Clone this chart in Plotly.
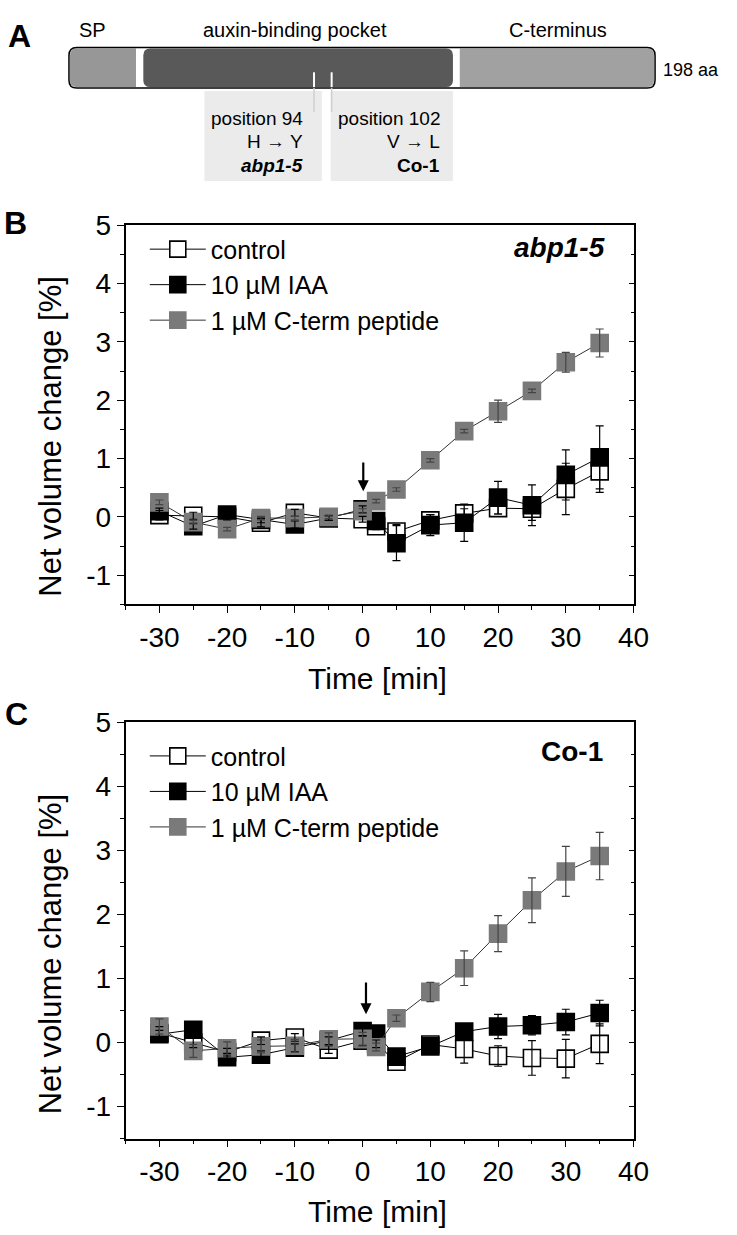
import plotly.graph_objects as go

W, H = 737, 1235


def px(x):
    return x / W


def py(y):
    return 1 - y / H


FONT = "Liberation Sans, Arial, sans-serif"

# ---------------- data ----------------
time_min = [-30, -25, -20, -15, -10, -5, 0, 2, 5, 10, 15, 20, 25, 30, 35]
series_names = ["control", "10 µM IAA", "1 µM C-term peptide"]

# panel B (abp1-5)
b_control = [0.03, 0.02, 0.00, -0.10, 0.07, -0.02, -0.04, -0.16, -0.25, -0.06, 0.06, 0.15, 0.14, 0.48, 0.78]
b_control_err = [0.08, 0.06, 0.05, 0.07, 0.06, 0.04, 0.05, 0.06, 0.12, 0.10, 0.08, 0.10, 0.20, 0.44, 0.36]
b_iaa = [0.10, -0.16, 0.04, -0.05, -0.13, -0.02, 0.13, -0.07, -0.45, -0.14, -0.10, 0.33, 0.20, 0.72, 1.02]
b_iaa_err = [0.05, 0.05, 0.06, 0.05, 0.06, 0.04, 0.06, 0.06, 0.30, 0.18, 0.32, 0.28, 0.35, 0.43, 0.54]
b_pep = [0.25, -0.09, -0.21, -0.02, -0.02, 0.00, 0.10, 0.27, 0.47, 0.97, 1.47, 1.81, 2.16, 2.65, 2.98]
b_pep_err = [0.04, 0.03, 0.03, 0.03, 0.03, 0.03, 0.04, 0.03, 0.03, 0.03, 0.03, 0.19, 0.03, 0.17, 0.24]

# panel C (Co-1)
c_control = [0.15, 0.00, -0.15, 0.03, 0.08, -0.11, 0.03, -0.02, -0.30, -0.03, -0.10, -0.21, -0.24, -0.25, -0.02]
c_control_err = [0.10, 0.08, 0.06, 0.06, 0.06, 0.06, 0.08, 0.06, 0.05, 0.06, 0.22, 0.16, 0.27, 0.30, 0.31]
c_iaa = [0.13, 0.20, -0.23, -0.19, -0.08, 0.03, 0.18, 0.14, -0.22, -0.06, 0.17, 0.25, 0.27, 0.32, 0.46]
c_iaa_err = [0.06, 0.08, 0.06, 0.06, 0.06, 0.06, 0.08, 0.06, 0.10, 0.06, 0.10, 0.19, 0.15, 0.20, 0.20]
c_pep = [0.25, -0.13, -0.09, -0.06, -0.05, 0.05, 0.06, -0.07, 0.38, 0.79, 1.16, 1.70, 2.22, 2.67, 2.91]
c_pep_err = [0.12, 0.10, 0.10, 0.10, 0.10, 0.10, 0.10, 0.06, 0.05, 0.15, 0.27, 0.28, 0.35, 0.39, 0.37]

x_ticks = [-30, -20, -10, 0, 10, 20, 30, 40]
x_ticktext = ["-30", "-20", "-10", "0", "10", "20", "30", "40"]
y_ticks = [-1, 0, 1, 2, 3, 4, 5]
y_ticktext = ["-1", "0", "1", "2", "3", "4", "5"]

# ---------------- styles ----------------
GRAY = "#7a7a7a"
styles = [
    dict(fill="white", edge="black", line="black", err="black"),
    dict(fill="black", edge="black", line="black", err="black"),
    dict(fill=GRAY, edge=GRAY, line="#333333", err="#444444"),
]

fig = go.Figure()

panels = [
    dict(xa="x", ya="y", legend="legend",
         vals=[b_control, b_iaa, b_pep], errs=[b_control_err, b_iaa_err, b_pep_err]),
    dict(xa="x2", ya="y2", legend="legend2",
         vals=[c_control, c_iaa, c_pep], errs=[c_control_err, c_iaa_err, c_pep_err]),
]

for p in panels:
    for name, vals, st in zip(series_names, p["vals"], styles):
        fig.add_trace(go.Scatter(
            x=time_min, y=vals, name=name, mode="lines+markers",
            xaxis=p["xa"], yaxis=p["ya"], legend=p["legend"],
            line=dict(color=st["line"], width=1),
            marker=dict(symbol="square", size=17, color=st["fill"],
                        line=dict(color=st["edge"], width=1.6)),
        ))
    for vals, errs, st in zip(p["vals"], p["errs"], styles):
        fig.add_trace(go.Scatter(
            x=time_min, y=vals, mode="markers", showlegend=False,
            xaxis=p["xa"], yaxis=p["ya"],
            marker=dict(size=2, opacity=0),
            error_y=dict(type="data", array=errs, visible=True,
                         color=st["err"], thickness=1.2, width=4),
            hoverinfo="skip",
        ))

# ---------------- axes ----------------
x_dom = [px(128.3), px(647.6)]
yB_dom = [py(596.7), py(212.7)]
yC_dom = [py(1137.5), py(715.8)]

tickfont = dict(family=FONT, size=28, color="black")

xcommon = dict(range=[-35, 40], tickvals=x_ticks, ticktext=x_ticktext,
               ticks="outside", ticklen=7,
               tickwidth=1.3, tickcolor="black", showline=True, linecolor="black",
               linewidth=1.5, mirror=True, showgrid=False, zeroline=False,
               tickfont=tickfont, domain=x_dom,
               minor=dict(dtick=5, tick0=0, ticks="outside", ticklen=4,
                          tickcolor="black", tickwidth=1))
ycommon = dict(range=[-1.5, 5], tickvals=y_ticks, ticktext=y_ticktext,
               ticks="outside", ticklen=7,
               tickwidth=1.3, tickcolor="black", showline=True, linecolor="black",
               linewidth=1.5, mirror=True, showgrid=False, zeroline=False,
               tickfont=tickfont,
               minor=dict(dtick=0.5, tick0=0, ticks="outside", ticklen=4,
                          tickcolor="black", tickwidth=1))
yright = dict(range=[-1.5, 5], tickvals=y_ticks, ticks="inside", ticklen=5,
              tickcolor="black", tickwidth=1, showticklabels=False, showline=False,
              showgrid=False, zeroline=False, side="right",
              minor=dict(dtick=0.5, tick0=0, ticks="inside", ticklen=3,
                         tickcolor="black", tickwidth=1))

fig.update_layout(
    xaxis=dict(xcommon, anchor="y"),
    yaxis=dict(ycommon, anchor="x", domain=yB_dom),
    xaxis2=dict(xcommon, anchor="y2"),
    yaxis2=dict(ycommon, anchor="x2", domain=yC_dom),
    yaxis3=dict(yright, overlaying="y", anchor="x"),
    yaxis4=dict(yright, overlaying="y2", anchor="x2"),
)
# empty traces so the right-hand tick axes are rendered
fig.add_trace(go.Scatter(x=[], y=[], xaxis="x", yaxis="y3", showlegend=False))
fig.add_trace(go.Scatter(x=[], y=[], xaxis="x2", yaxis="y4", showlegend=False))

legfont = dict(family=FONT, size=25, color="black")
fig.update_layout(
    legend=dict(x=px(148), y=py(214), xanchor="left", yanchor="top",
                font=legfont, bgcolor="rgba(0,0,0,0)", tracegroupgap=0,
                itemwidth=56),
    legend2=dict(x=px(148), y=py(727), xanchor="left", yanchor="top",
                 font=legfont, bgcolor="rgba(0,0,0,0)", tracegroupgap=0,
                 itemwidth=56),
)

annotations = []
# axis titles
for yc in [426, 950]:
    annotations.append(dict(text="Net volume change [%]", x=px(52), y=py(yc),
                            xref="paper", yref="paper", showarrow=False,
                            textangle=-90, font=dict(family=FONT, size=31, color="black"),
                            xanchor="center", yanchor="middle"))
for yc in [672, 1211]:
    annotations.append(dict(text="Time [min]", x=px(386), y=py(yc),
                            xref="paper", yref="paper", showarrow=False,
                            font=dict(family=FONT, size=30, color="black"),
                            xanchor="center", yanchor="middle"))
# panel letters
for letter, (lx, ly) in zip("ABC", [(20, 21), (16, 211), (17, 708)]):
    annotations.append(dict(text="<b>%s</b>" % letter, x=px(lx), y=py(ly),
                            xref="paper", yref="paper", showarrow=False,
                            font=dict(family=FONT, size=32, color="black"),
                            xanchor="center", yanchor="middle"))
# genotype labels
annotations.append(dict(text="<b><i>abp1-5</i></b>", x=px(620), y=py(235),
                        xref="paper", yref="paper", showarrow=False,
                        font=dict(family=FONT, size=28, color="black"),
                        xanchor="right", yanchor="middle"))
annotations.append(dict(text="<b>Co-1</b>", x=px(618), y=py(746),
                        xref="paper", yref="paper", showarrow=False,
                        font=dict(family=FONT, size=28, color="black"),
                        xanchor="right", yanchor="middle"))
# treatment arrows
for xr, yr, xa in [("x", "y", 0.1), ("x2", "y2", 0.5)]:
    annotations.append(dict(x=xa, y=0.44, ax=xa, ay=0.96, xref=xr, yref=yr,
                            axref=xr, ayref=yr, showarrow=True, text="",
                            arrowhead=2, arrowsize=1, arrowwidth=2.2,
                            arrowcolor="black"))

# ---------------- panel A diagram ----------------
shapes = []


def rrect(x0, y0, x1, y1, r, left=True, right=True):
    X0, X1 = px(x0), px(x1)
    Y0, Y1 = py(y0), py(y1)
    rx, ry = r / W, r / H
    d = ""
    if left:
        d += "M %f,%f " % (X0 + rx, Y0)
    else:
        d += "M %f,%f " % (X0, Y0)
    if right:
        d += "L %f,%f Q %f,%f %f,%f L %f,%f Q %f,%f %f,%f " % (
            X1 - rx, Y0, X1, Y0, X1, Y0 - ry, X1, Y1 + ry, X1, Y1, X1 - rx, Y1)
    else:
        d += "L %f,%f L %f,%f " % (X1, Y0, X1, Y1)
    if left:
        d += "L %f,%f Q %f,%f %f,%f L %f,%f Q %f,%f %f,%f Z" % (
            X0 + rx, Y1, X0, Y1, X0, Y1 + ry, X0, Y0 - ry, X0, Y0, X0 + rx, Y0)
    else:
        d += "L %f,%f Z" % (X0, Y1)
    return d


shapes.append(dict(type="path", xref="paper", yref="paper",
                   path=rrect(70.5, 33, 669.6, 74, 8), fillcolor="white",
                   line=dict(width=0)))
shapes.append(dict(type="path", xref="paper", yref="paper",
                   path=rrect(71.5, 34, 139, 73, 7, True, False), fillcolor="#979797",
                   line=dict(width=0)))
shapes.append(dict(type="path", xref="paper", yref="paper",
                   path=rrect(146.5, 34, 463, 73, 7), fillcolor="#595959",
                   line=dict(width=0)))
shapes.append(dict(type="path", xref="paper", yref="paper",
                   path=rrect(470, 34, 668.6, 73, 7, False, True), fillcolor="#a1a1a1",
                   line=dict(width=0)))
shapes.append(dict(type="path", xref="paper", yref="paper",
                   path=rrect(70.5, 33, 669.6, 74, 8), fillcolor="rgba(0,0,0,0)",
                   line=dict(color="black", width=1.5)))
shapes.append(dict(type="rect", xref="paper", yref="paper",
                   x0=px(209), x1=px(329), y0=py(168), y1=py(77),
                   fillcolor="#ebebeb", line=dict(width=0), layer="below"))
shapes.append(dict(type="rect", xref="paper", yref="paper",
                   x0=px(338), x1=px(463), y0=py(168), y1=py(77),
                   fillcolor="#ebebeb", line=dict(width=0), layer="below"))
for xm in [321, 339]:
    shapes.append(dict(type="line", xref="paper", yref="paper",
                       x0=px(xm), x1=px(xm), y0=py(58), y1=py(73),
                       line=dict(color="white", width=2)))
    shapes.append(dict(type="line", xref="paper", yref="paper",
                       x0=px(xm), x1=px(xm), y0=py(74), y1=py(98),
                       line=dict(color="#cfcfcf", width=1.5)))

afont = dict(family=FONT, size=20, color="black")
for txt, xc in [("SP", 95), ("auxin-binding pocket", 302), ("C-terminus", 570)]:
    annotations.append(dict(text=txt, x=px(xc), y=py(15), xref="paper", yref="paper",
                            showarrow=False, font=afont, xanchor="center",
                            yanchor="middle"))
annotations.append(dict(text="198 aa", x=px(676), y=py(56), xref="paper",
                        yref="paper", showarrow=False,
                        font=dict(family=FONT, size=18, color="black"),
                        xanchor="left", yanchor="middle"))
bfont = dict(family=FONT, size=19, color="black")
box_lines = [
    (312, ["position 94", "H → Y", "<b><i>abp1-5</i></b>"]),
    (452, ["position 102", "V → L", "<b>Co-1</b>"]),
]
for xr, lines in box_lines:
    for txt, yc in zip(lines, [105, 128, 152]):
        annotations.append(dict(text=txt, x=px(xr), y=py(yc), xref="paper",
                                yref="paper", showarrow=False, font=bfont,
                                xanchor="right", yanchor="middle"))

fig.update_layout(
    width=W, height=H, margin=dict(l=0, r=0, t=0, b=0),
    paper_bgcolor="white", plot_bgcolor="white",
    font=dict(family=FONT, color="black"),
    annotations=annotations, shapes=shapes,
)

fig.write_html("out.html", config={"displayModeBar": False},
               post_script="document.body.style.margin='0px';document.body.style.padding='0px';")
